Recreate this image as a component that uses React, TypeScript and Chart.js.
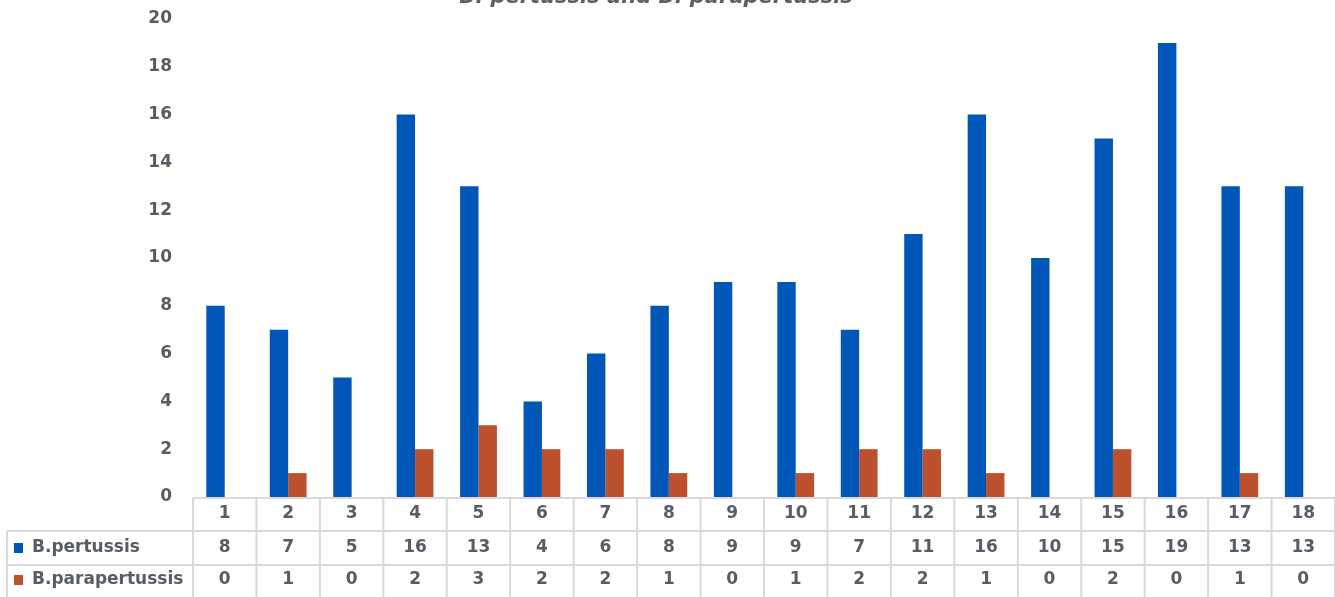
import React, { useEffect, useRef } from "react";
import { Chart, registerables } from "chart.js";

Chart.register(...registerables);

const categories = ["1", "2", "3", "4", "5", "6", "7", "8", "9", "10", "11", "12", "13", "14", "15", "16", "17", "18"];
const pertussis = [8, 7, 5, 16, 13, 4, 6, 8, 9, 9, 7, 11, 16, 10, 15, 19, 13, 13];
const parapertussis = [0, 1, 0, 2, 3, 2, 2, 1, 0, 1, 2, 2, 1, 0, 2, 0, 1, 0];
const seriesNames = ["B.pertussis", "B.parapertussis"];
const titleText = "B. pertussis and B. parapertussis";

const BLUE = "#0057b8";
const ORANGE = "#bd502d";
const TEXT = "#565d66";
const GRID = "#d9d9d9";
const FONT = "'DejaVu Sans', sans-serif";

const tablePlugin = {
  id: "dataTable",
  afterDraw(chart: any) {
    const ctx = chart.ctx;
    const area = chart.chartArea;
    const xs = chart.scales.x;
    const n = categories.length;
    const colW = (area.right - area.left) / n;
    const top = area.bottom + 1;
    const r1 = top + 33;
    const r2 = top + 67;
    const bottom = chart.height + 2;
    const leftEdge = 7;

    ctx.save();
    ctx.strokeStyle = GRID;
    ctx.lineWidth = 2;
    ctx.beginPath();
    ctx.moveTo(area.left, top);
    ctx.lineTo(area.right, top);
    ctx.moveTo(leftEdge, r1);
    ctx.lineTo(area.right, r1);
    ctx.moveTo(leftEdge, r2);
    ctx.lineTo(area.right, r2);
    ctx.moveTo(leftEdge, bottom);
    ctx.lineTo(area.right, bottom);
    ctx.moveTo(leftEdge, r1);
    ctx.lineTo(leftEdge, bottom);
    for (let i = 0; i <= n; i++) {
      const x = area.left + i * colW;
      ctx.moveTo(x, top);
      ctx.lineTo(x, bottom);
    }
    ctx.stroke();

    ctx.fillStyle = TEXT;
    ctx.font = `bold 17px ${FONT}`;
    ctx.textAlign = "center";
    ctx.textBaseline = "middle";
    const rows = [pertussis, parapertussis];
    for (let i = 0; i < n; i++) {
      const cx = xs.getPixelForValue(i);
      ctx.fillText(categories[i], cx, top + 16);
      ctx.fillText(String(rows[0][i]), cx, r1 + 17);
      ctx.fillText(String(rows[1][i]), cx, r2 + 15);
    }

    ctx.textAlign = "left";
    const colors = [BLUE, ORANGE];
    const ys = [r1 + 17, r2 + 15];
    for (let k = 0; k < 2; k++) {
      ctx.fillStyle = colors[k];
      ctx.fillRect(14, ys[k] - 5, 9, 10);
      ctx.fillStyle = TEXT;
      ctx.fillText(seriesNames[k], 32, ys[k]);
    }

    ctx.font = `italic bold 21px ${FONT}`;
    ctx.textAlign = "center";
    ctx.textBaseline = "alphabetic";
    ctx.fillStyle = "#5f5f5f";
    ctx.fillText(titleText, 656, 3);
    ctx.restore();
  },
};

export default function App() {
  const ref = useRef<HTMLCanvasElement>(null);
  useEffect(() => {
    if (!ref.current) return;
    const chart = new Chart(ref.current, {
      type: "bar",
      data: {
        labels: categories,
        datasets: [
          { label: seriesNames[0], data: pertussis, backgroundColor: BLUE, borderWidth: 0 },
          { label: seriesNames[1], data: parapertussis, backgroundColor: ORANGE, borderWidth: 0 },
        ],
      },
      options: {
        responsive: false,
        animation: false,
        devicePixelRatio: 1,
        layout: { padding: { top: 19, bottom: 100, left: 0, right: 0 } },
        datasets: { bar: { categoryPercentage: 0.58, barPercentage: 1 } },
        plugins: { legend: { display: false }, title: { display: false }, tooltip: { enabled: false } },
        scales: {
          x: { display: false, offset: true },
          y: {
            min: 0,
            max: 20,
            border: { display: false },
            grid: { display: false, drawTicks: false },
            ticks: {
              stepSize: 2,
              padding: 21,
              color: TEXT,
              font: { family: FONT, size: 17, weight: "bold" },
            },
            afterFit(scale: any) {
              scale.width = 193;
              scale.paddingTop = 0;
              scale.paddingBottom = 0;
            },
          },
        },
      },
      plugins: [tablePlugin],
    } as any);
    return () => chart.destroy();
  }, []);
  return (
    <div style={{ position: "absolute", left: 0, top: 0, width: 1335, height: 597, background: "#fff" }}>
      <canvas ref={ref} width={1335} height={597} />
    </div>
  );
}
